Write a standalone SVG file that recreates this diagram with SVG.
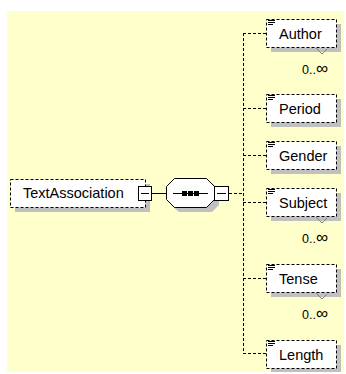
<svg xmlns="http://www.w3.org/2000/svg" width="346" height="374" viewBox="0 0 346 374">
<style>
.bg{fill:#FFFFCC}
.sh{fill:#C0C0C0}
.box{fill:#FFFFFF;stroke:#000;stroke-width:1;stroke-dasharray:3 2}
.solid{fill:#FFFFFF;stroke:#000;stroke-width:1}
.ln{fill:none;stroke:#000;stroke-width:1}
.dl{fill:none;stroke:#000;stroke-width:1;stroke-dasharray:3 2}
.lbl{font-family:"Liberation Sans",Arial,sans-serif;font-size:14.5px;fill:#000}
.occ{font-family:"Liberation Sans",Arial,sans-serif;font-size:12.5px;fill:#000}
.inf{font-size:17px}
.notch{fill:none;stroke:#808080;stroke-width:1}
</style>
<defs>
<path id="icon" d="M268 20.5h7M268 22.5h7M268 24.5h5" fill="none" stroke="#000" stroke-width="1"/>
</defs>
<rect class="bg" x="7" y="11" width="337" height="361"/>

<g id="connectors">
<line class="ln" x1="152" y1="193.5" x2="166" y2="193.5"/>
<line class="dl" x1="229" y1="193.5" x2="243" y2="193.5"/>
<line class="dl" x1="243.5" y1="33" x2="243.5" y2="354"/>
<line class="dl" x1="243" y1="33.5" x2="266" y2="33.5"/>
<line class="dl" x1="243" y1="108.5" x2="266" y2="108.5"/>
<line class="dl" x1="243" y1="155.5" x2="266" y2="155.5"/>
<line class="dl" x1="243" y1="202.5" x2="266" y2="202.5"/>
<line class="dl" x1="243" y1="278.5" x2="266" y2="278.5"/>
<line class="dl" x1="243" y1="353.5" x2="266" y2="353.5"/>
</g>

<g id="TextAssociation">
<rect class="sh" x="15" y="184" width="135" height="28"/>
<rect class="box" x="10.5" y="179.5" width="135" height="28"/>
<text class="lbl" x="23" y="198">TextAssociation</text>
<rect class="solid" x="138.5" y="186.5" width="13" height="14"/>
<line class="ln" x1="141" y1="193.5" x2="149" y2="193.5"/>
</g>

<g id="sequence">
<polygon class="sh" points="179,183 212,183 219,190 219,205 212,212 179,212 171,205 171,190"/>
<polygon class="solid" points="174.5,178.5 206.5,178.5 214.5,186.5 214.5,199.5 206.5,207.5 174.5,207.5 166.5,199.5 166.5,186.5"/>
<line class="ln" x1="173" y1="193.5" x2="208" y2="193.5"/>
<rect x="182" y="191" width="5" height="5" fill="#000"/>
<rect x="188" y="191" width="5" height="5" fill="#000"/>
<rect x="194" y="191" width="5" height="5" fill="#000"/>
<rect class="solid" x="214.5" y="186.5" width="14" height="14"/>
<line class="ln" x1="217" y1="193.5" x2="226" y2="193.5"/>
</g>

<g id="Author">
<rect class="sh" x="271" y="24" width="70" height="28"/>
<rect class="box" x="266.5" y="19.5" width="70" height="28"/>
<use href="#icon"/>
<text class="lbl" x="279" y="39">Author</text>
<polyline class="notch" points="316,48 322,54 327,49"/>
<text class="occ" x="302" y="74">0..<tspan class="inf">∞</tspan></text>
</g>

<g id="Period">
<rect class="sh" x="271" y="99" width="70" height="28"/>
<rect class="box" x="266.5" y="94.5" width="70" height="28"/>
<use href="#icon" transform="translate(0,75)"/>
<text class="lbl" x="279" y="114">Period</text>
</g>

<g id="Gender">
<rect class="sh" x="271" y="146" width="70" height="28"/>
<rect class="box" x="266.5" y="141.5" width="70" height="28"/>
<use href="#icon" transform="translate(0,122)"/>
<text class="lbl" x="279" y="161">Gender</text>
</g>

<g id="Subject">
<rect class="sh" x="271" y="193" width="70" height="28"/>
<rect class="box" x="266.5" y="188.5" width="70" height="28"/>
<use href="#icon" transform="translate(0,169)"/>
<text class="lbl" x="279" y="208">Subject</text>
<polyline class="notch" points="316,217 322,223 327,218"/>
<text class="occ" x="302" y="243">0..<tspan class="inf">∞</tspan></text>
</g>

<g id="Tense">
<rect class="sh" x="271" y="269" width="70" height="28"/>
<rect class="box" x="266.5" y="264.5" width="70" height="28"/>
<use href="#icon" transform="translate(0,245)"/>
<text class="lbl" x="279" y="284">Tense</text>
<polyline class="notch" points="316,293 322,299 327,294"/>
<text class="occ" x="302" y="319">0..<tspan class="inf">∞</tspan></text>
</g>

<g id="Length">
<rect class="sh" x="271" y="345" width="70" height="27"/>
<rect class="box" x="266.5" y="340.5" width="70" height="28"/>
<use href="#icon" transform="translate(0,321)"/>
<text class="lbl" x="279" y="360">Length</text>
</g>
</svg>
